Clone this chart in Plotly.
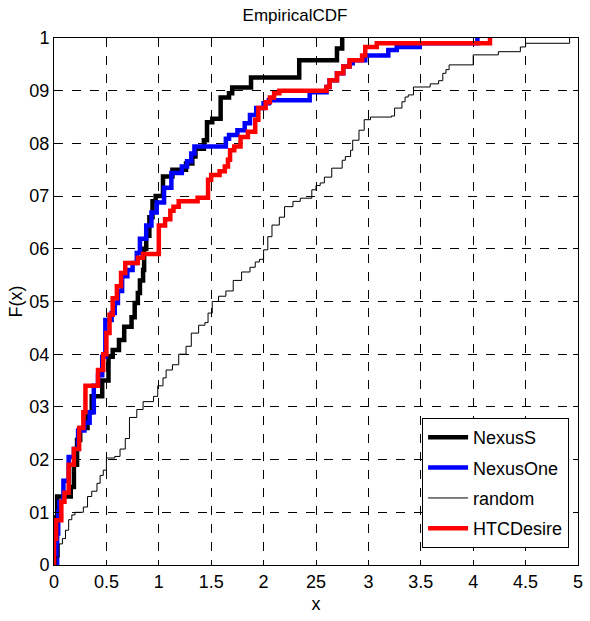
import plotly.graph_objects as go

# ---- data ----
nexus_s_x = [0.0, 0.005, 0.01, 0.02, 0.03, 0.16, 0.19, 0.22, 0.25, 0.32, 0.36, 0.46, 0.52, 0.56, 0.62, 0.67,
             0.74, 0.77, 0.80, 0.82, 0.85, 0.86, 0.88, 0.91, 0.94, 0.97, 1.04, 1.13, 1.26, 1.32, 1.35, 1.43,
             1.46, 1.51, 1.59, 1.67, 1.70, 1.88, 2.34, 2.70, 2.75]
nexus_s_f = [0.0, 0.03, 0.06, 0.09, 0.13, 0.148, 0.19, 0.237, 0.26, 0.29, 0.32, 0.35, 0.395, 0.408, 0.427, 0.452,
             0.47, 0.497, 0.516, 0.54, 0.56, 0.60, 0.625, 0.66, 0.69, 0.70, 0.737, 0.75, 0.762, 0.775, 0.79, 0.806,
             0.84, 0.847, 0.887, 0.895, 0.906, 0.925, 0.958, 0.98, 1.0]

nexus_one_x = [0.03, 0.03, 0.04, 0.05, 0.09, 0.14, 0.19, 0.23, 0.29, 0.34, 0.38, 0.42, 0.46, 0.49, 0.55, 0.58,
               0.61, 0.65, 0.70, 0.75, 0.79, 0.82, 0.88, 0.93, 0.98, 1.05, 1.12, 1.22, 1.27, 1.31, 1.34, 1.64,
               1.67, 1.75, 1.82, 1.87, 1.93, 2.00, 2.05, 2.44, 2.60, 2.63, 2.70, 2.76, 2.82, 2.85, 2.97, 3.19,
               3.27, 3.49, 4.04]
nexus_one_f = [0.0, 0.06, 0.10, 0.12, 0.16, 0.205, 0.22, 0.255, 0.27, 0.29, 0.34, 0.36, 0.395, 0.465, 0.478, 0.497,
               0.52, 0.548, 0.56, 0.573, 0.592, 0.619, 0.644, 0.669, 0.688, 0.716, 0.744, 0.756, 0.766, 0.781, 0.794, 0.809,
               0.816, 0.825, 0.838, 0.854, 0.867, 0.876, 0.882, 0.897, 0.907, 0.92, 0.933, 0.946, 0.952, 0.958, 0.967, 0.977,
               0.983, 0.99, 1.0]

random_x = [0.02, 0.02, 0.05, 0.08, 0.11, 0.14, 0.17, 0.20, 0.28, 0.32, 0.36, 0.41, 0.44, 0.47, 0.50, 0.58,
            0.63, 0.68, 0.72, 0.79, 0.85, 0.95, 0.99, 1.04, 1.07, 1.13, 1.19, 1.26, 1.31, 1.38, 1.44, 1.47,
            1.51, 1.57, 1.64, 1.71, 1.79, 1.87, 1.92, 1.96, 2.00, 2.04, 2.08, 2.15, 2.20, 2.28, 2.35, 2.46,
            2.50, 2.54, 2.58, 2.65, 2.75, 2.78, 2.83, 2.85, 2.91, 2.96, 3.02, 3.22, 3.25, 3.32, 3.35, 3.38,
            3.43, 3.59, 3.67, 3.71, 3.74, 3.77, 4.00, 4.24, 4.45, 4.50, 4.92]
random_f = [0.0, 0.015, 0.04, 0.05, 0.066, 0.086, 0.095, 0.10, 0.11, 0.13, 0.14, 0.155, 0.17, 0.18, 0.203, 0.206,
            0.22, 0.24, 0.28, 0.295, 0.31, 0.32, 0.34, 0.355, 0.37, 0.38, 0.40, 0.415, 0.44, 0.455, 0.46, 0.478,
            0.50, 0.51, 0.52, 0.54, 0.556, 0.565, 0.575, 0.58, 0.598, 0.623, 0.645, 0.66, 0.68, 0.69, 0.696, 0.712,
            0.72, 0.725, 0.736, 0.753, 0.768, 0.775, 0.787, 0.806, 0.825, 0.845, 0.85, 0.852, 0.867, 0.879, 0.888, 0.892,
            0.907, 0.913, 0.919, 0.933, 0.94, 0.949, 0.968, 0.974, 0.983, 0.99, 1.0]

htc_desire_x = [0.0, 0.0, 0.02, 0.07, 0.10, 0.14, 0.19, 0.24, 0.28, 0.30, 0.42, 0.47, 0.50, 0.53, 0.56, 0.60,
                0.64, 0.68, 0.80, 0.85, 1.00, 1.06, 1.11, 1.14, 1.19, 1.37, 1.47, 1.50, 1.58, 1.63, 1.66, 1.68,
                1.72, 1.78, 1.85, 1.92, 1.95, 2.02, 2.06, 2.10, 2.15, 2.60, 2.63, 2.70, 2.76, 2.82, 2.94, 2.97,
                3.08, 4.16]
htc_desire_f = [0.0, 0.05, 0.085, 0.12, 0.137, 0.19, 0.22, 0.26, 0.29, 0.34, 0.37, 0.40, 0.44, 0.475, 0.506, 0.529,
                0.554, 0.573, 0.583, 0.59, 0.644, 0.656, 0.672, 0.68, 0.69, 0.697, 0.731, 0.74, 0.747, 0.756, 0.769, 0.787,
                0.794, 0.812, 0.822, 0.845, 0.867, 0.878, 0.887, 0.895, 0.90, 0.907, 0.92, 0.933, 0.946, 0.958, 0.967, 0.983,
                0.99, 1.0]

x_tick_vals = [0, 0.5, 1, 1.5, 2, 2.5, 3, 3.5, 4, 4.5, 5]
x_tick_text = ["0", "0.5", "1", "1.5", "2", "25", "3", "3.5", "4", "4.5", "5"]
y_tick_vals = [0, 0.1, 0.2, 0.3, 0.4, 0.5, 0.6, 0.7, 0.8, 0.9, 1]
y_tick_text = ["0", "01", "02", "03", "04", "05", "06", "07", "08", "09", "1"]

FONT = "Liberation Sans Narrow, Arial Narrow, Liberation Sans, sans-serif"

fig = go.Figure()
series = [
    ("NexusS", nexus_s_x, nexus_s_f, "black", 4.5),
    ("NexusOne", nexus_one_x, nexus_one_f, "blue", 4.5),
    ("random", random_x, random_f, "black", 1),
    ("HTCDesire", htc_desire_x, htc_desire_f, "red", 4.5),
]
for name, xs, fs, col, w in series:
    fig.add_trace(go.Scatter(x=xs, y=fs, mode="lines", name=name, line_shape="hv", legendgroup=name,
                             line=dict(color=col, width=w)))

axis_common = dict(showline=True, linecolor="black", linewidth=1, mirror="ticks", ticks="inside",
                   ticklen=5, tickcolor="black", showgrid=True, gridcolor="black", gridwidth=1,
                   griddash="dash", zeroline=False, tickfont=dict(family=FONT, size=18, color="black"))

fig.update_xaxes(range=[0, 5], tickvals=x_tick_vals, ticktext=x_tick_text,
                 title=dict(text="x", font=dict(family=FONT, size=18, color="black"), standoff=6),
                 **axis_common)
fig.update_yaxes(range=[0, 1], tickvals=y_tick_vals, ticktext=y_tick_text,
                 title=dict(text="F(x)", font=dict(family=FONT, size=18, color="black"), standoff=2),
                 **axis_common)

fig.update_layout(
    width=590, height=621,
    margin=dict(l=54, r=7, t=38, b=56),
    paper_bgcolor="white", plot_bgcolor="white",
    title=dict(text="EmpiricalCDF", x=0.5, xanchor="center", y=0.985, yanchor="top",
               font=dict(family=FONT, size=17, color="black")),
    font=dict(family=FONT, color="black"),
    legend=dict(x=0.983, y=0.279, xanchor="right", yanchor="top", bgcolor="white",
                bordercolor="black", borderwidth=1, font=dict(family=FONT, size=18, color="black"),
                itemwidth=40, tracegroupgap=4),
    showlegend=True,
)

fig.write_html("out.html")
